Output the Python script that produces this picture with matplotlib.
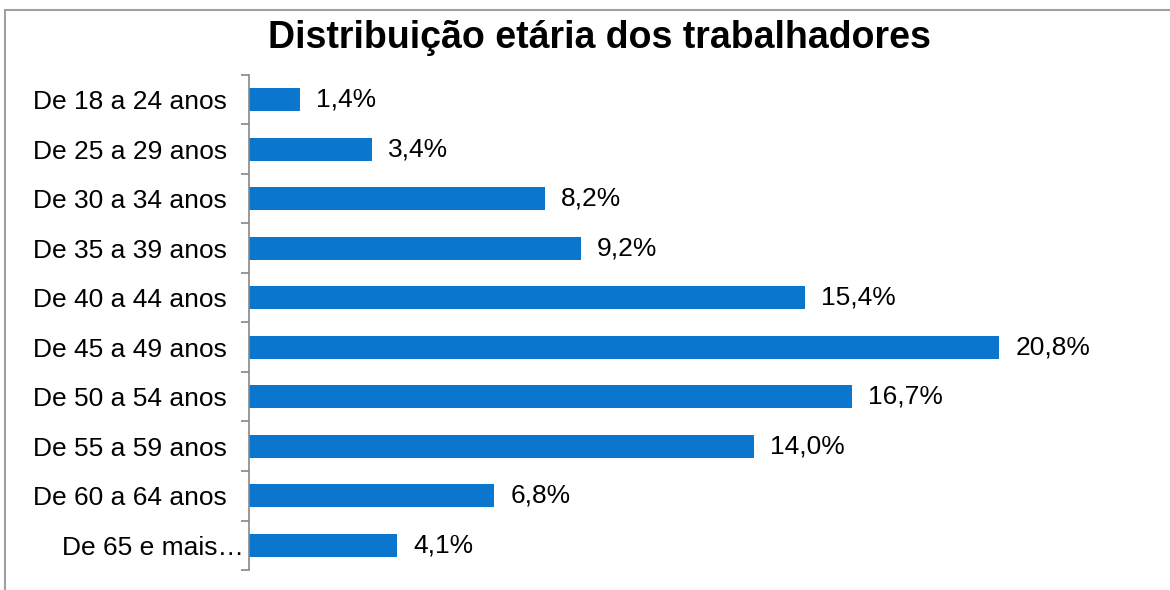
import matplotlib.pyplot as plt
from matplotlib.patches import Rectangle
from matplotlib.ticker import FixedLocator, NullLocator
from matplotlib.transforms import ScaledTranslation

plt.rcParams['font.family'] = ['Liberation Sans', 'DejaVu Sans']

categorias = ['De 18 a 24 anos', 'De 25 a 29 anos', 'De 30 a 34 anos', 'De 35 a 39 anos',
              'De 40 a 44 anos', 'De 45 a 49 anos', 'De 50 a 54 anos', 'De 55 a 59 anos',
              'De 60 a 64 anos', 'De 65 e mais…']
valores = [1.4, 3.4, 8.2, 9.2, 15.4, 20.8, 16.7, 14.0, 6.8, 4.1]
rotulos = ['1,4%', '3,4%', '8,2%', '9,2%', '15,4%', '20,8%', '16,7%', '14,0%', '6,8%', '4,1%']

fig = plt.figure(figsize=(11.7, 5.9), dpi=100)
fig.patches.append(Rectangle((5 / 1170, -0.1), 1.2, 1.1 - 10 / 590,
                             transform=fig.transFigure, fill=False,
                             edgecolor='#a0a0a0', linewidth=1.5))

ax = fig.add_axes([249 / 1170, 20 / 590, 902 / 1170, 495 / 590])
y = list(range(len(categorias)))
ax.barh(y, valores, height=0.47, color='#0b76ce')
for yi, v, r in zip(y, valores, rotulos):
    ax.text(v + 0.45, yi, r, va='center', ha='left', fontsize=19)

ax.set_ylim(len(categorias) - 0.5, -0.5)
ax.set_xlim(0, 25)
ax.set_yticks(y)
ax.set_yticklabels(categorias, fontsize=19)
ax.yaxis.set_minor_locator(FixedLocator([i - 0.5 for i in range(len(categorias) + 1)]))
ax.tick_params(axis='y', which='major', length=0, pad=16)
ax.tick_params(axis='y', which='minor', length=6, color='#888888', width=1.2)
ax.xaxis.set_major_locator(NullLocator())
for s in ['top', 'right', 'bottom']:
    ax.spines[s].set_visible(False)
ax.spines['left'].set_color('#888888')
ax.spines['left'].set_linewidth(1.2)

# ultimo rotulo truncado encosta no eixo
ultimo = ax.get_yticklabels()[-1]
ultimo.set_transform(ultimo.get_transform() + ScaledTranslation(0.17, 0, fig.dpi_scale_trans))

fig.text(599 / 1170, 1 - 38 / 590, 'Distribuição etária dos trabalhadores',
         ha='center', va='center', fontsize=27, fontweight='bold')

plt.savefig('out.png')
